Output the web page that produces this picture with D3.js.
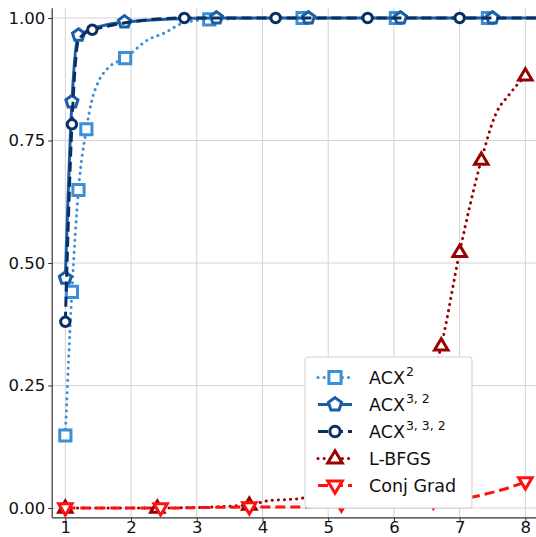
<!DOCTYPE html>
<html>
<head>
<meta charset="utf-8">
<script src="https://cdn.jsdelivr.net/npm/d3@7"></script>
<style>
  html, body { margin: 0; padding: 0; background: #fff; }
  svg { display: block; font-family: "DejaVu Sans", sans-serif; }
</style>
</head>
<body>
<svg id="chart" width="536" height="537"></svg>
<script>
// ---------- DATA ----------
const xTicks = [1, 2, 3, 4, 5, 6, 7, 8];
const yTicks = [0, 0.25, 0.5, 0.75, 1.0];
const yTickLabels = ["0.00", "0.25", "0.50", "0.75", "1.00"];

// Marker positions per series
const acx2Markers   = [[1.0,0.148],[1.1,0.441],[1.2,0.649],[1.32,0.773],[1.91,0.918],[3.19,0.997],[4.61,1.0],[6.03,1.0],[7.43,1.0]];
const acx32Markers  = [[1.0,0.469],[1.1,0.829],[1.2,0.965],[1.9,0.992],[3.3,1.0],[4.7,1.0],[6.1,1.0],[7.5,1.0]];
const acx332Markers = [[1.0,0.380],[1.1,0.783],[1.41,0.976],[2.81,1.0],[4.2,1.0],[5.6,1.0],[7.0,1.0]];
const lbfgsMarkers  = [[1.0,0.0],[2.4,0.0],[3.8,0.006],[6.72,0.331],[7.0,0.522],[7.33,0.71],[8.0,0.882]];
const cgMarkers     = [[1.0,0.0],[2.45,0.0],[3.8,0.002],[5.2,0.008],[6.6,0.014],[8.0,0.053]];

// Line paths per series (profile curve points)
const acx2Line   = [[1.0,0.148],[1.1,0.441],[1.2,0.649],[1.32,0.773],[1.4,0.83],[1.5,0.869],[1.65,0.898],[1.91,0.918],[2.25,0.955],[2.5,0.969],[2.8,0.99],[3.19,0.997],[4.61,1.0],[8.3,1.0]];
const acx32Line  = [[1.0,0.469],[1.1,0.829],[1.2,0.965],[1.9,0.992],[3.3,1.0],[8.3,1.0]];
const acx332Line = [[1.0,0.380],[1.1,0.783],[1.2,0.955],[1.41,0.976],[2.81,1.0],[8.3,1.0]];
const lbfgsLine  = [[1.0,0.0],[2.4,0.0],[3.8,0.006],[4.05,0.014],[4.6,0.02],[5.2,0.04],[6.0,0.13],[6.72,0.331],[7.0,0.522],[7.33,0.71],[7.55,0.804],[7.75,0.843],[8.0,0.882]];
const cgLine     = [[1.0,0.0],[2.45,0.0],[3.8,0.002],[4.6,0.002],[5.2,0.008],[6.6,0.014],[7.17,0.022],[7.53,0.033],[7.83,0.045],[8.0,0.053]];

const seriesNames = ["ACX2", "ACX32", "ACX332", "L-BFGS", "Conj Grad"];
const legendBase  = ["ACX", "ACX", "ACX", "L-BFGS", "Conj Grad"];
const legendSup   = ["2", "3, 2", "3, 3, 2", "", ""];

// ---------- STYLE ----------
const series = [
  {line: acx2Line,   markers: acx2Markers,   color: "#3a8fd6", dash: "0.1 6",  marker: "square"},
  {line: acx32Line,  markers: acx32Markers,  color: "#1c5ea6", dash: null,     marker: "pentagon"},
  {line: acx332Line, markers: acx332Markers, color: "#0b2f62", dash: "10 5",   marker: "circle"},
  {line: lbfgsLine,  markers: lbfgsMarkers,  color: "#990000", dash: "0.1 6",  marker: "triUp"},
  {line: cgLine,     markers: cgMarkers,     color: "#ff1010", dash: "10 5",   marker: "triDown"}
];

const svg = d3.select("#chart");
const W = 536, H = 537;

const x = d3.scaleLinear().domain([0.8, 8.2]).range([52.2, 538.5]);
const y = d3.scaleLinear().domain([-0.02, 1.02]).range([517.8, 8.2]);

svg.append("defs").append("clipPath").attr("id", "clip")
  .append("rect").attr("x", 52).attr("y", 8).attr("width", 500).attr("height", 510);

// grid
const grid = svg.append("g");
grid.selectAll(".gx").data(xTicks).join("line")
  .attr("x1", d => x(d)).attr("x2", d => x(d))
  .attr("y1", y(1.02)).attr("y2", y(-0.02))
  .attr("stroke", "#d3d3d3").attr("stroke-width", 1);
grid.selectAll(".gy").data(yTicks).join("line")
  .attr("x1", 52).attr("x2", 540)
  .attr("y1", d => y(d)).attr("y2", d => y(d))
  .attr("stroke", "#d3d3d3").attr("stroke-width", 1);

// axes
const xAxis = d3.axisBottom(x).tickValues(xTicks).tickFormat(d3.format("d")).tickSize(4).tickPadding(3);
const yAxis = d3.axisLeft(y).tickValues(yTicks).tickFormat((d, i) => yTickLabels[i]).tickSize(4).tickPadding(3);

const gx = svg.append("g").attr("transform", `translate(0,${y(-0.02)})`).call(xAxis);
const gy = svg.append("g").attr("transform", `translate(${x(0.8)},0)`).call(yAxis);
[gx, gy].forEach(g => {
  g.select(".domain").attr("stroke", "#333").attr("stroke-width", 1.2);
  g.selectAll(".tick line").attr("stroke", "#333").attr("stroke-width", 1);
  g.selectAll(".tick text").attr("fill", "#111").style("font-size", "16.5px").style("font-family", "DejaVu Sans");
});
gx.selectAll(".tick text").attr("y", 15.5).attr("dy", 0);
gy.select(".domain").attr("d", `M0,${y(1.02)}V${y(-0.02)}`);
gx.select(".domain").attr("d", `M${x(0.8)},0H540`);

// markers
function markerPath(type, s) {
  if (type === "square") {
    const h = s * 0.5;
    return `M${-h},${-h}H${h}V${h}H${-h}Z`;
  }
  if (type === "circle") {
    const r = s * 0.45;
    return `M${r},0A${r},${r} 0 1,1 ${-r},0A${r},${r} 0 1,1 ${r},0Z`;
  }
  if (type === "pentagon") {
    const r = s * 0.55;
    const pts = d3.range(5).map(i => {
      const a = -Math.PI / 2 + i * 2 * Math.PI / 5;
      return [r * Math.cos(a), r * Math.sin(a)];
    });
    return "M" + pts.map(p => p.join(",")).join("L") + "Z";
  }
  if (type === "triUp") {
    const r = s * 0.6;
    return `M0,${-r}L${r * 0.95},${r * 0.6}L${-r * 0.95},${r * 0.6}Z`;
  }
  if (type === "triDown") {
    const r = s * 0.6;
    return `M0,${r}L${r * 0.95},${-r * 0.6}L${-r * 0.95},${-r * 0.6}Z`;
  }
}
const markerSize = {square: 11.2, pentagon: 11.5, circle: 10.5, triUp: 11.8, triDown: 11.8};

const line = d3.line().x(d => x(d[0])).y(d => y(d[1])).curve(d3.curveMonotoneX);
const plot = svg.append("g").attr("clip-path", "url(#clip)");

series.forEach(s => {
  plot.append("path").datum(s.line)
    .attr("d", line)
    .attr("fill", "none")
    .attr("stroke", s.color)
    .attr("stroke-width", 3)
    .attr("stroke-linecap", s.dash && s.dash.startsWith("0.1") ? "round" : "butt")
    .attr("stroke-dasharray", s.dash);
  plot.selectAll(null).data(s.markers).join("path")
    .attr("transform", d => `translate(${x(d[0])},${y(d[1])})`)
    .attr("d", markerPath(s.marker, markerSize[s.marker]))
    .attr("fill", "#fff")
    .attr("stroke", s.color)
    .attr("stroke-width", 3)
    .attr("stroke-linejoin", "miter");
});

// legend
const lg = svg.append("g").attr("transform", "translate(305,357)");
lg.append("rect").attr("x", 0).attr("y", 0).attr("width", 167).attr("height", 151)
  .attr("rx", 3).attr("fill", "#fff").attr("fill-opacity", 1)
  .attr("stroke", "#d0d0d0").attr("stroke-width", 1);
series.forEach((s, i) => {
  const cy = 20.5 + i * 27;
  lg.append("line").attr("x1", 13).attr("x2", 47).attr("y1", cy).attr("y2", cy)
    .attr("stroke", s.color).attr("stroke-width", 3)
    .attr("stroke-linecap", s.dash && s.dash.startsWith("0.1") ? "round" : "butt")
    .attr("stroke-dasharray", s.dash);
  lg.append("path").attr("transform", `translate(30,${cy})`)
    .attr("d", markerPath(s.marker, markerSize[s.marker] + 1))
    .attr("fill", "#fff").attr("stroke", s.color).attr("stroke-width", 3);
  const t = lg.append("text").attr("x", 64).attr("y", cy + 6.3)
    .style("font-size", "17.5px").attr("fill", "#111");
  t.append("tspan").text(legendBase[i]);
  if (legendSup[i]) {
    t.append("tspan").attr("dy", -7.5).style("font-size", "12.5px").attr("dx", 1).text(legendSup[i]);
  }
});
</script>
</body>
</html>
